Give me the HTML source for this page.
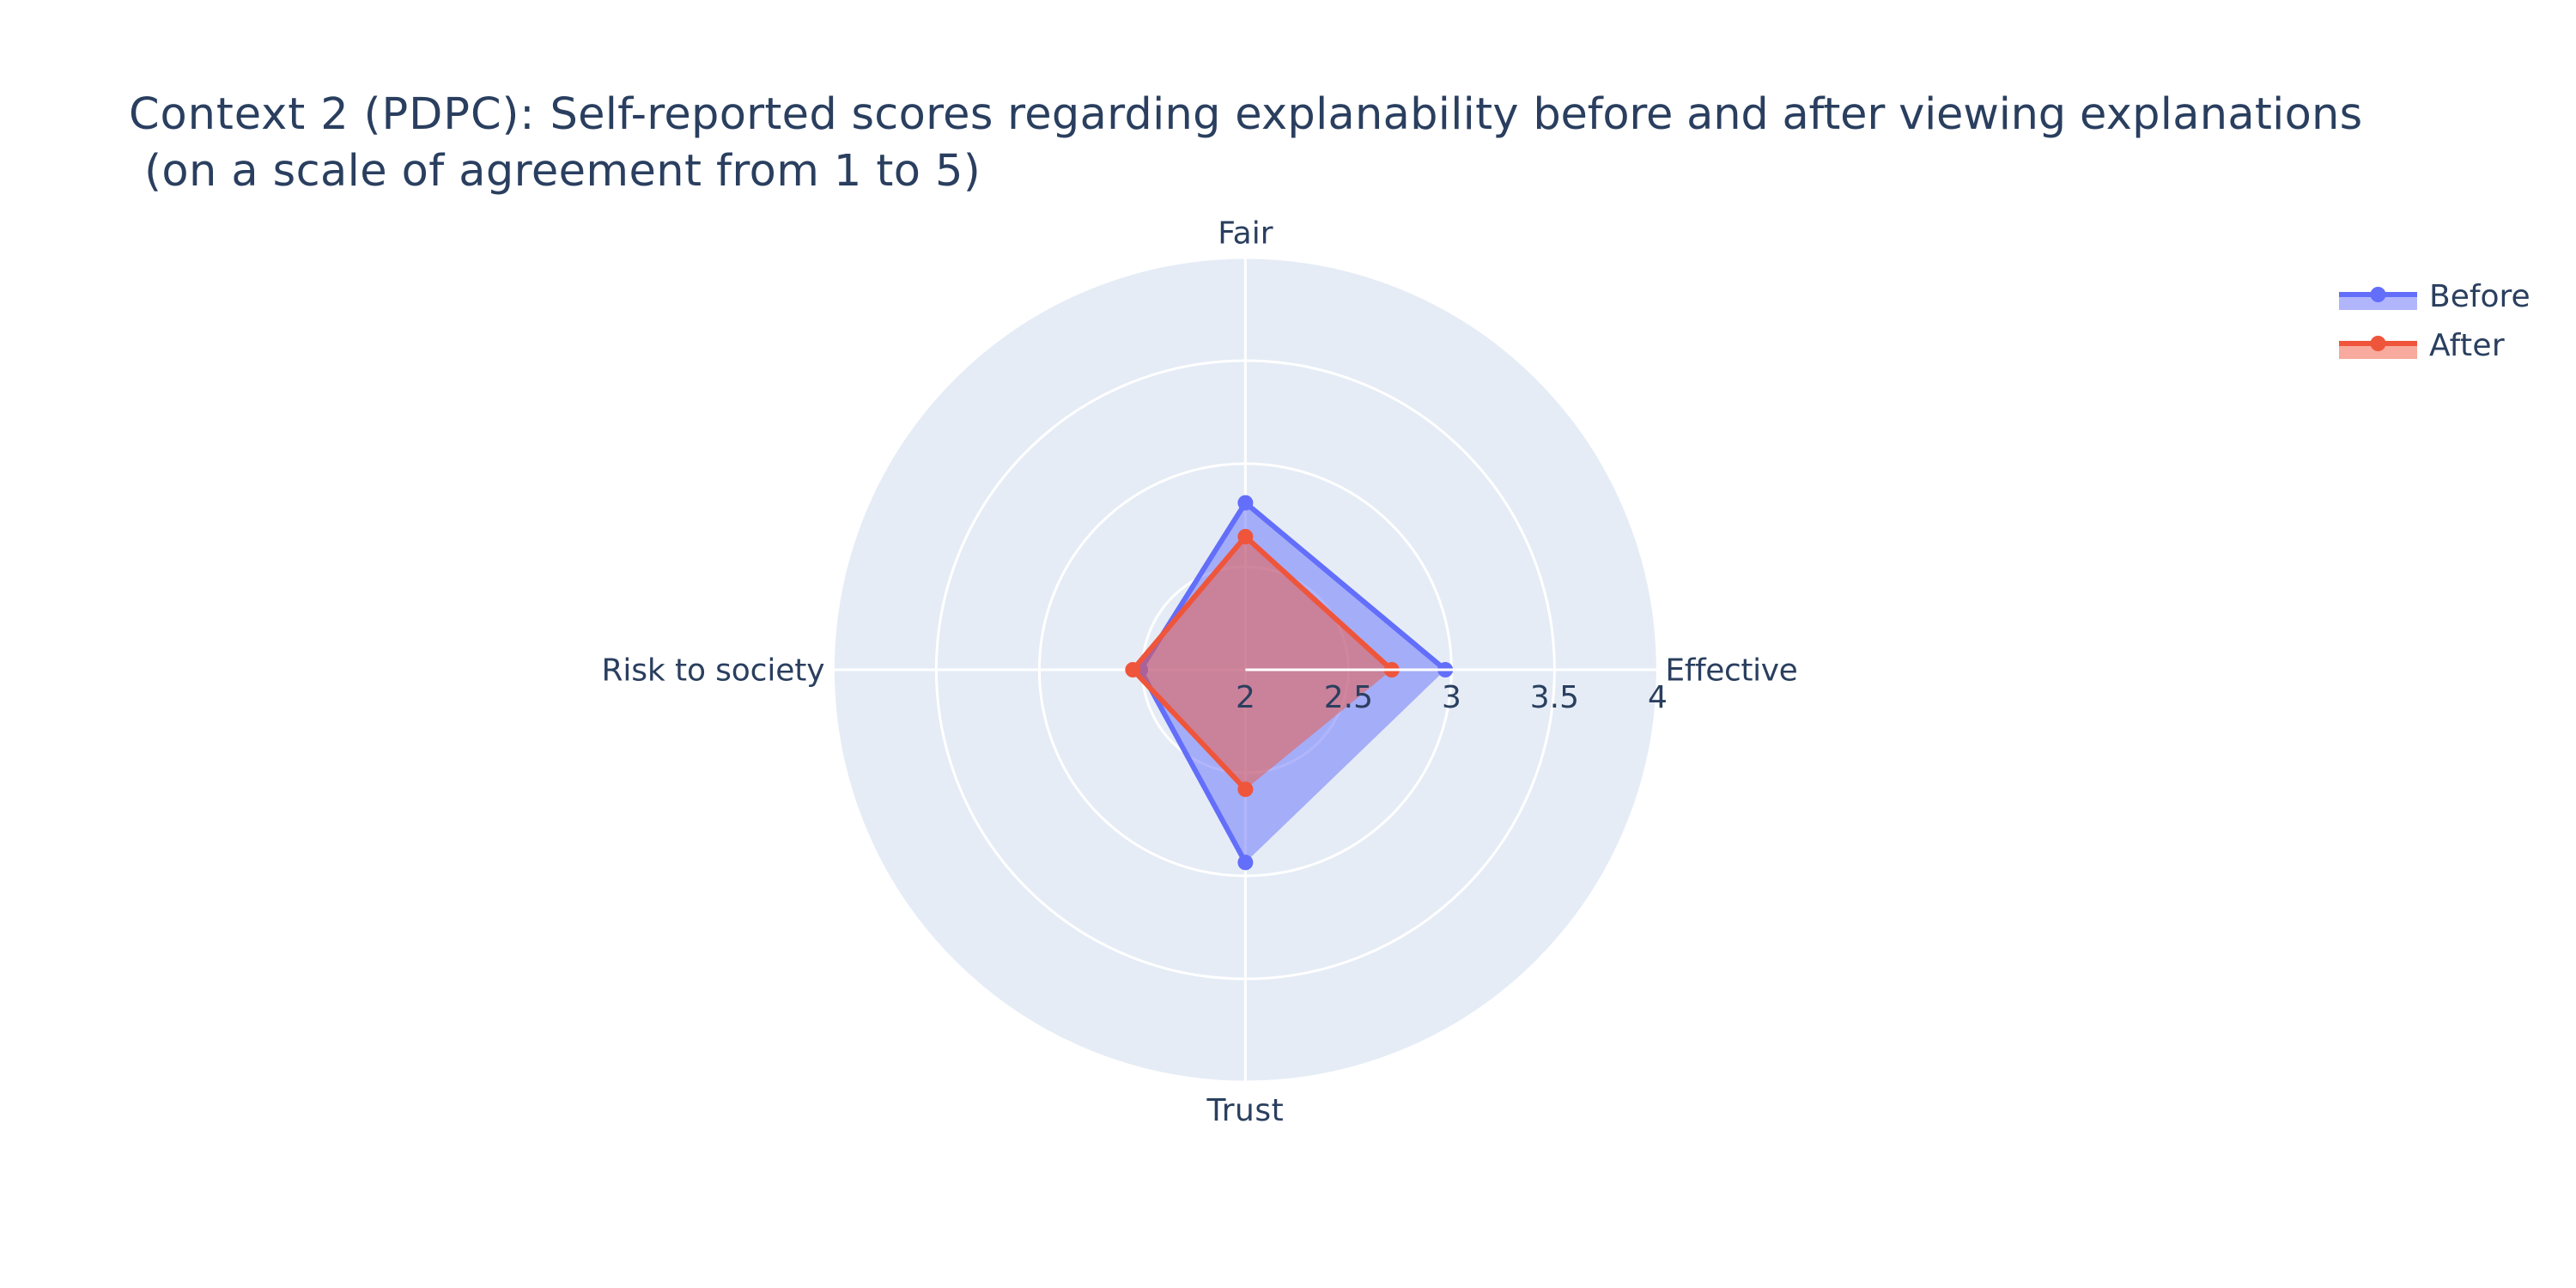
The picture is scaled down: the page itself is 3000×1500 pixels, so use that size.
<!DOCTYPE html>
<html lang="en">
<head>
<meta charset="utf-8">
<title>Context 2 (PDPC) radar chart</title>
<style>
html,body{margin:0;padding:0;background:#fff;}
svg{display:block;}
text{font-family:"DejaVu Sans","Liberation Sans",sans-serif;fill:#2a3f5f;white-space:pre;}
.title{font-size:51px;}
.lbl{font-size:36px;}
</style>
</head>
<body>
<svg id="chart" xmlns="http://www.w3.org/2000/svg" width="3000" height="1500" viewBox="0 0 3000 1500">
  <rect x="0" y="0" width="3000" height="1500" fill="#ffffff"/>
  <g>
    <text class="title" x="150" y="150"><tspan letter-spacing="0.9">Context 2 (PDPC): </tspan><tspan letter-spacing="0.27">Self-reported scores regarding explanability </tspan><tspan letter-spacing="-0.21">before and after viewing </tspan><tspan letter-spacing="0.27">explanations</tspan></text>
    <text class="title" x="151.5" y="216" letter-spacing="0.4"> (on a scale of agreement from 1 to 5)</text>
  </g>
  <g id="polar"></g>
  <g>
    <g>
      <rect x="2724" y="343" width="91" height="18" fill="#636efa" fill-opacity="0.5"/>
      <line x1="2724" y1="343" x2="2815" y2="343" stroke="#636efa" stroke-width="6"/>
      <circle cx="2769.5" cy="343" r="9" fill="#636efa"/>
      <text class="lbl" x="2829" y="357">Before</text>
    </g>
    <g>
      <rect x="2724" y="400" width="91" height="18" fill="#ef553b" fill-opacity="0.5"/>
      <line x1="2724" y1="400" x2="2815" y2="400" stroke="#ef553b" stroke-width="6"/>
      <circle cx="2769.5" cy="400" r="9" fill="#ef553b"/>
      <text class="lbl" x="2829" y="414" letter-spacing="0.3">After</text>
    </g>
  </g>
</svg>
<script>
const categories = ["Effective", "Fair", "Risk to society", "Trust"];
const beforeValues = [2.97, 2.81, 2.51, 2.935];
const afterValues = [2.71, 2.646, 2.546, 2.58];
const radialTicks = [2, 2.5, 3, 3.5, 4];
const radialTickLabels = ["2", "2.5", "3", "3.5", "4"];

const NS = "http://www.w3.org/2000/svg";
const cx = 1450.4, cy = 780, outerR = 480;
const rMin = radialTicks[0], rMax = radialTicks[radialTicks.length - 1];
const polar = document.getElementById("polar");
const labelTracking = {"Effective": -0.4, "Risk to society": -0.13, "Trust": 0.5};

function rScale(v) { return (v - rMin) / (rMax - rMin) * outerR; }
function angle(i) { return i / categories.length * 2 * Math.PI; }
function px(v, i) { return cx + rScale(v) * Math.cos(angle(i)); }
function py(v, i) { return cy - rScale(v) * Math.sin(angle(i)); }
function make(tag, attrs) {
  const el = document.createElementNS(NS, tag);
  for (const k in attrs) el.setAttribute(k, attrs[k]);
  polar.appendChild(el);
  return el;
}

/* background disc */
const disc = make("circle", {cx: cx, cy: cy, r: outerR, fill: "#e5ecf6"});



/* angular grid lines */
categories.forEach(function (c, i) {
  const g = make("line", {x1: cx, y1: cy, x2: px(rMax, i), y2: py(rMax, i), stroke: "#ffffff", "stroke-width": 3});
  
  
});

/* radial grid rings */
radialTicks.slice(1).forEach(function (t) {
  const ring = make("circle", {cx: cx, cy: cy, r: rScale(t), fill: "none", stroke: "#ffffff", "stroke-width": 3});
  
  
});

/* series */
function drawSeries(values, color, key) {
  const pts = values.map(function (v, i) { return px(v, i) + "," + py(v, i); }).join(" ");
  const fill = make("polygon", {points: pts, fill: color, "fill-opacity": 0.5, stroke: "none"});
  
  
  const line = make("polyline", {points: pts, fill: "none", stroke: color, "stroke-width": 6, "stroke-linejoin": "round"});
  
  
  values.forEach(function (v, i) {
    const m = make("circle", {cx: px(v, i), cy: py(v, i), r: 9, fill: color});
    
    
  });
}
drawSeries(beforeValues, "#636efa", "before");
drawSeries(afterValues, "#ef553b", "after");

/* radial axis line on top of the traces */
const axisLine = make("line", {x1: cx, y1: cy, x2: cx + outerR, y2: cy, stroke: "#ffffff", "stroke-width": 3});



/* radial tick labels */
radialTicks.forEach(function (t, i) {
  const lab = make("text", {x: cx + rScale(t), y: cy + 44, "text-anchor": "middle", "class": "lbl"});
  lab.textContent = radialTickLabels[i];
  
  
});

/* category labels */
categories.forEach(function (c, i) {
  const cos = Math.round(Math.cos(angle(i)));
  const sin = Math.round(Math.sin(angle(i)));
  const lx = cx + cos * (outerR + (cos > 0 ? 9 : 10));
  const ly = cy + 12.5 - sin * (outerR + (sin > 0 ? 29 : 32.5));
  const anchor = cos > 0 ? "start" : (cos < 0 ? "end" : "middle");
  const lab = make("text", {x: lx, y: ly, "text-anchor": anchor, "class": "lbl", "letter-spacing": labelTracking[c] || 0});
  lab.textContent = c;
  
  
});
</script>
</body>
</html>
